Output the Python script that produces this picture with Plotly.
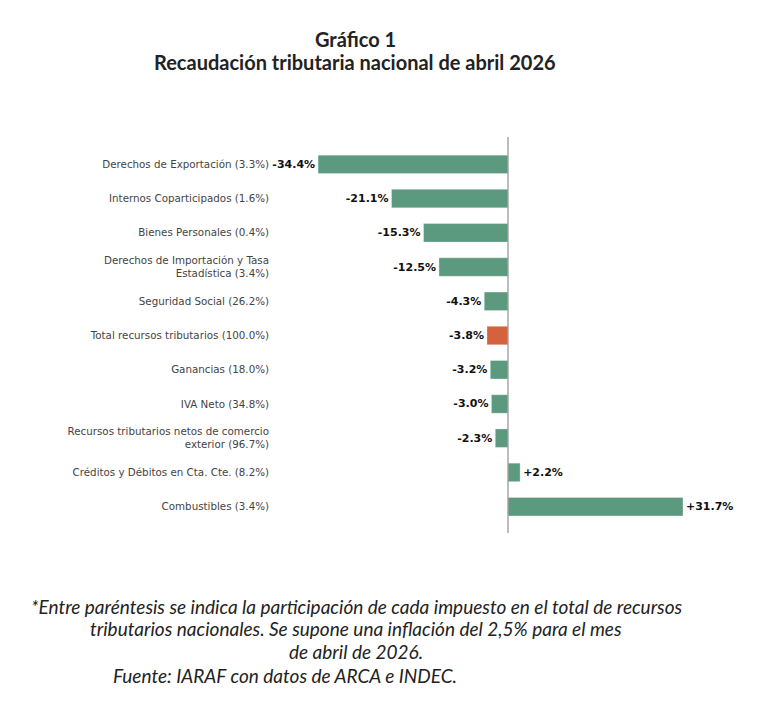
import plotly.graph_objects as go

categories = [
    "Derechos de Exportación (3.3%)",
    "Internos Coparticipados (1.6%)",
    "Bienes Personales (0.4%)",
    "Derechos de Importación y Tasa<br>Estadística (3.4%)",
    "Seguridad Social (26.2%)",
    "Total recursos tributarios (100.0%)",
    "Ganancias (18.0%)",
    "IVA Neto (34.8%)",
    "Recursos tributarios netos de comercio<br>exterior (96.7%)",
    "Créditos y Débitos en Cta. Cte. (8.2%)",
    "Combustibles (3.4%)",
]
values = [-34.4, -21.1, -15.3, -12.5, -4.3, -3.8, -3.2, -3.0, -2.3, 2.2, 31.7]
highlight = "Total recursos tributarios (100.0%)"

GREEN = "#5b9a7f"
ORANGE = "#d4623a"
colors = [ORANGE if c == highlight else GREEN for c in categories]
labels = [f"{v:+.1f}%" if v > 0 else f"{v:.1f}%" for v in values]

fig = go.Figure()
fig.add_trace(go.Bar(
    x=values, y=categories, orientation="h",
    marker=dict(color=colors, line=dict(color="rgba(255,255,255,0.6)", width=0.5)),
    width=0.54,
    text=labels, textposition="outside", cliponaxis=False,
    textfont=dict(family="DejaVu Sans", size=11, color="#111"),
    texttemplate="<b>%{text}</b>",
    hoverinfo="skip",
))

fig.add_shape(type="line", xref="x", yref="paper", x0=0, x1=0, y0=0, y1=1,
              line=dict(color="#999", width=1.3))

fig.update_layout(
    width=780, height=715,
    paper_bgcolor="white", plot_bgcolor="white",
    margin=dict(l=272, r=40, t=137, b=182),
    showlegend=False,
    font=dict(family="DejaVu Sans"),
    xaxis=dict(range=[-42.75, 42.03], showgrid=False, zeroline=False,
               showticklabels=False, showline=False, fixedrange=True),
    yaxis=dict(categoryorder="array", categoryarray=categories,
               range=[10.77, -0.8], showgrid=False, zeroline=False,
               showline=False, ticks="", ticklabelstandoff=2,
               tickfont=dict(family="DejaVu Sans", size=10.3, color="#444")),
)

ann = [
    dict(text="<b>Gráfico 1</b>", x=355, y=39, size=20, italic=False),
    dict(text="<b>Recaudación tributaria nacional de abril 2026</b>", x=355, y=62, size=20, italic=False),
    dict(text="*Entre paréntesis se indica la participación de cada impuesto en el total de recursos", x=357, y=606, size=19, italic=True),
    dict(text="tributarios nacionales. Se supone una inflación del 2,5% para el mes", x=356, y=628, size=19, italic=True),
    dict(text="de abril de 2026.", x=356, y=651, size=19, italic=True),
    dict(text="Fuente: IARAF con datos de ARCA e INDEC.", x=285, y=675, size=19, italic=True),
]
for a in ann:
    t = a["text"]
    if a["italic"]:
        t = f"<i>{t}</i>"
    fig.add_annotation(text=t, xref="paper", yref="paper",
                       x=(a["x"] - 272) / 468, y=1 - (a["y"] - 137) / 396,
                       xanchor="center", yanchor="middle", showarrow=False,
                       font=dict(family="Lato", size=a["size"], color="#222"))

fig.write_html("out.html")
